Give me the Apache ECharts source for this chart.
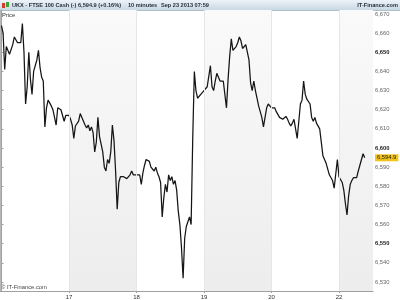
<!DOCTYPE html>
<html>
<head>
<meta charset="utf-8">
<script src="https://cdn.jsdelivr.net/npm/echarts@6/dist/echarts.min.js"></script>
<style>
html,body{margin:0;padding:0;background:#fff;}
#chart{width:400px;height:300px;}
</style>
</head>
<body>
<div id="chart"></div>
<script>
// ---- data (10-minute closes) ----
const dayLabels = ['16', '17', '18', '19', '20', '22'];
const barsPerDay = 42;
const sep16 = [6664, 6660, 6641, 6653, 6652, 6649, 6648, 6654, 6658, 6657, 6655, 6656, 6655, 6665, 6650, 6623, 6632, 6650, 6636, 6628, 6640, 6639, 6646, 6651, 6642, 6637, 6635, 6611, 6621, 6625, 6626, 6622, 6620, 6621, 6612, 6621, 6620, 6620, 6621, 6614, 6617, 6618];
const sep17 = [6617, 6615, 6612, 6605, 6611.5, 6612, 6614, 6618, 6618, 6614, 6612, 6610.5, 6612, 6609, 6611, 6608, 6598, 6603, 6616, 6606, 6602, 6598, 6590, 6588, 6594, 6592, 6598, 6612, 6604, 6588, 6568, 6582, 6585, 6586, 6585, 6586, 6584, 6585, 6586, 6588, 6586, 6587];
const sep18 = [6586, 6587, 6586, 6581, 6587, 6591, 6594, 6595, 6593, 6590, 6591, 6588, 6590, 6587, 6585, 6582, 6564, 6574, 6581, 6577, 6586, 6583, 6585, 6581, 6583, 6578, 6567, 6560, 6548, 6532, 6553, 6559, 6558, 6564, 6560, 6605, 6640, 6630, 6626, 6625, 6628, 6628];
const sep19 = [6630, 6631, 6632, 6632, 6643, 6632, 6630, 6635, 6639, 6637, 6635, 6636, 6635, 6634, 6621, 6636, 6648, 6657, 6651, 6651, 6653, 6655, 6658, 6656, 6652, 6652, 6654, 6654, 6646, 6634, 6630, 6635, 6630, 6626, 6622, 6619, 6616, 6611, 6616, 6621, 6623, 6624];
const sep20 = [6621, 6620, 6621, 6619, 6618, 6616, 6617, 6615, 6616, 6616.5, 6615, 6613, 6611.5, 6613, 6615, 6616, 6605, 6614, 6623, 6625, 6635, 6628, 6625.5, 6624.5, 6623, 6616, 6614, 6616, 6613, 6612.5, 6610, 6603, 6596, 6594, 6592, 6589, 6586, 6585, 6583, 6579, 6580, 6594];
const sep22 = [6585, 6586, 6582, 6578, 6571, 6565, 6575, 6581, 6583, 6584.5, 6583.5, 6584.5, 6588, 6591, 6590, 6597, 6594.9];
const days = [sep16, sep17, sep18, sep19, sep20, sep22];
const yTicks = [6530, 6540, 6550, 6560, 6570, 6580, 6590, 6600, 6610, 6620, 6630, 6640, 6650, 6660, 6670];
const yBold = [6550, 6600, 6650];
const lastPrice = 6594.9;
const headerTitle = 'UKX - FTSE 100 Cash (-)';
const headerQuote = '6,594.9 (+0.16%)';
const headerPeriod = '10 minutes';
const headerDate = 'Sep 23 2013 07:59';
const brand = 'IT-Finance.com';

// ---- build ----
const xMin = -0.022, xMax = 5.504;
const series = [];
days.forEach((arr, d) => arr.forEach((p, i) => series.push([d + i / barsPerDay, p])));
const dayTicks = [1, 2, 3, 4, 5];
const fmt = v => v.toLocaleString('en-US', {minimumFractionDigits: (v % 1 ? 1 : 0)});
const FONT = '"Liberation Sans", Arial, sans-serif';
const HF = 'bold 5.6px ' + FONT;

const chart = echarts.init(document.getElementById('chart'), null, {renderer: 'canvas'});
chart.setOption({
  animation: false,
  backgroundColor: '#ffffff',
  grid: {left: 0, right: 27, top: 10, bottom: 9, containLabel: false},
  xAxis: {
    type: 'value', min: xMin, max: xMax,
    axisLine: {show: true, lineStyle: {color: '#a0a0a0', width: 1}},
    axisTick: {show: true, customValues: dayTicks, length: 2, lineStyle: {color: '#a0a0a0'}},
    axisLabel: {customValues: dayTicks, formatter: v => dayLabels[Math.round(v)], fontSize: 6, color: '#333', margin: 3, fontFamily: FONT},
    splitLine: {show: false}
  },
  yAxis: {
    type: 'value', position: 'right', min: 6525.3, max: 6672.1, scale: true,
    axisLine: {show: true, lineStyle: {color: '#a0a0a0', width: 1}},
    axisTick: {show: true, customValues: yTicks, length: 2, lineStyle: {color: '#a0a0a0'}},
    axisLabel: {
      customValues: yTicks, margin: 2, fontSize: 5.8, fontFamily: FONT, color: '#666',
      formatter: v => yBold.indexOf(v) >= 0 ? '{b|' + fmt(v) + '}' : fmt(v),
      rich: {b: {fontSize: 5.8, fontWeight: 'bold', color: '#222', fontFamily: FONT}}
    },
    splitLine: {show: false}
  },
  series: [{
    type: 'line',
    data: series,
    showSymbol: false,
    symbol: 'none',
    lineStyle: {color: '#151515', width: 1.25},
    z: 3,
    markArea: {
      silent: true,
      itemStyle: {color: new echarts.graphic.LinearGradient(0, 0, 0, 1, [{offset: 0, color: '#fafafa'}, {offset: 1, color: '#ededed'}])},
      data: [[{xAxis: 1}, {xAxis: 2}], [{xAxis: 3}, {xAxis: 4}], [{xAxis: 5}, {xAxis: xMax}]]
    },
    markLine: {
      silent: true,
      symbol: 'none',
      label: {show: false},
      data: dayTicks.map(t => ({xAxis: t, lineStyle: {color: '#e6e6e6', width: 1, type: 'solid'}}))
    }
  }]
});

// last-price tag on the right axis, positioned through the y scale
const tagY = chart.convertToPixel({yAxisIndex: 0}, lastPrice);
chart.setOption({
  graphic: [
    {type: 'rect', shape: {x: 0, y: 0, width: 400, height: 10}, silent: true,
     style: {fill: new echarts.graphic.LinearGradient(0, 0, 0, 1, [{offset: 0, color: '#eef3f8'}, {offset: 1, color: '#c9d8e4'}])}},
    {type: 'line', shape: {x1: 0, y1: 10.5, x2: 400, y2: 10.5}, style: {stroke: '#aebfcc', lineWidth: 1}},
    {type: 'line', shape: {x1: 0.5, y1: 10, x2: 0.5, y2: 291}, style: {stroke: '#b8b8b8', lineWidth: 1}},
    {type: 'rect', shape: {x: 2, y: 3, width: 3, height: 5}, style: {fill: '#d83a2e'}},
    {type: 'rect', shape: {x: 6, y: 2, width: 3, height: 5}, style: {fill: '#3aa43a'}},
    {type: 'text', x: 12, y: 2.5, style: {text: headerTitle, font: HF, fill: '#1e2a36'}},
    {type: 'text', x: 78, y: 2.5, style: {text: headerQuote, font: HF, fill: '#1e2a36'}},
    {type: 'text', x: 128, y: 2.5, style: {text: headerPeriod, font: HF, fill: '#1e2a36'}},
    {type: 'text', x: 161, y: 2.5, style: {text: headerDate, font: HF, fill: '#1e2a36'}},
    {type: 'text', x: 398, y: 2.5, style: {text: brand, font: HF, fill: '#1e2a36', align: 'right'}},
    {type: 'text', x: 2, y: 12, style: {text: 'Price', font: '5.8px ' + FONT, fill: '#333'}},
    {type: 'text', x: 1, y: 284, style: {text: '© ' + brand, font: '5.8px ' + FONT, fill: '#444'}},
    {type: 'text', x: 375, y: tagY, z: 10,
     style: {text: fmt(lastPrice), font: '5.8px ' + FONT, fill: '#222', verticalAlign: 'middle',
             backgroundColor: '#f2c31a', padding: [1, 2, 0, 2]}}
  ]
});
</script>
</body>
</html>
